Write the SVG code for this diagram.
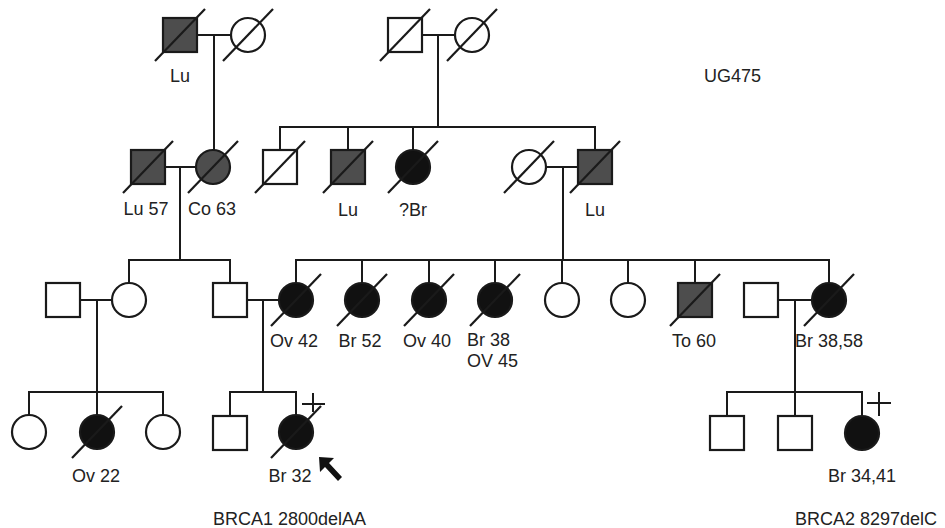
<svg xmlns="http://www.w3.org/2000/svg" width="945" height="528" viewBox="0 0 945 528">
<style>
.ln{stroke:#1a1a1a;stroke-width:2;fill:none}
.sym{stroke:#1a1a1a;stroke-width:2.2}
.open{fill:#fff}
.aff{fill:#111}
.sh{fill:#4d4d4d}
.sl{stroke:#1a1a1a;stroke-width:2.2}
text{font-family:"Liberation Sans",Arial,sans-serif;font-size:18px;fill:#222}
.c{text-anchor:middle}
</style>
<rect width="945" height="528" fill="#fff"/>
<g id="connectors">
<path class="ln" d="M197,35H231M214,35V150"/>
<path class="ln" d="M422,35H455M438,35V127"/>
<path class="ln" d="M280,150V127H595V150M348,127V150M413,127V150"/>
<path class="ln" d="M546,167H578M563,167V260"/>
<path class="ln" d="M165,167H196M180,167V260"/>
<path class="ln" d="M129,283V260H230V283"/>
<path class="ln" d="M296,283V260H829V283M362,260V283M429,260V283M495,260V283M562,260V283M628,260V283M695,260V283"/>
<path class="ln" d="M80,300H112M97,300V415"/>
<path class="ln" d="M247,300H279M263,300V392"/>
<path class="ln" d="M778,300H812M795,300V392"/>
<path class="ln" d="M29,415V392H163V415"/>
<path class="ln" d="M230,416V392H296V415"/>
<path class="ln" d="M727,416V392H862V416M795,392V416"/>
</g>
<g id="I-1"><rect class="sym sh" x="163" y="18" width="34" height="34"/><line class="sl" x1="155" y1="61" x2="205" y2="9"/><text class="c" x="180" y="82">Lu</text></g>
<g id="I-2"><circle class="sym open" cx="248" cy="35" r="17"/><line class="sl" x1="223" y1="61" x2="273" y2="9"/></g>
<g id="I-3"><rect class="sym open" x="388" y="18" width="34" height="34"/><line class="sl" x1="380" y1="61" x2="430" y2="9"/></g>
<g id="I-4"><circle class="sym open" cx="472" cy="35" r="17"/><line class="sl" x1="447" y1="61" x2="497" y2="9"/></g>
<g id="II-1"><rect class="sym sh" x="131" y="150" width="34" height="34"/><line class="sl" x1="123" y1="193" x2="173" y2="141"/><text class="c" x="146" y="215">Lu 57</text></g>
<g id="II-2"><circle class="sym sh" cx="213" cy="167" r="17"/><line class="sl" x1="188" y1="193" x2="238" y2="141"/><text class="c" x="212" y="215">Co 63</text></g>
<g id="II-3"><rect class="sym open" x="263" y="150" width="34" height="34"/><line class="sl" x1="255" y1="193" x2="305" y2="141"/></g>
<g id="II-4"><rect class="sym sh" x="331" y="150" width="34" height="34"/><line class="sl" x1="323" y1="193" x2="373" y2="141"/><text class="c" x="348" y="216">Lu</text></g>
<g id="II-5"><circle class="sym aff" cx="413" cy="167" r="17"/><line class="sl" x1="388" y1="193" x2="438" y2="141"/><text class="c" x="413" y="216">?Br</text></g>
<g id="II-6"><circle class="sym open" cx="529" cy="167" r="17"/><line class="sl" x1="504" y1="193" x2="554" y2="141"/></g>
<g id="II-7"><rect class="sym sh" x="578" y="150" width="34" height="34"/><line class="sl" x1="570" y1="193" x2="620" y2="141"/><text class="c" x="595" y="216">Lu</text></g>
<g id="III-1"><rect class="sym open" x="46" y="283" width="34" height="34"/></g>
<g id="III-2"><circle class="sym open" cx="129" cy="300" r="17"/></g>
<g id="III-3"><rect class="sym open" x="213" y="283" width="34" height="34"/></g>
<g id="III-4"><circle class="sym aff" cx="296" cy="300" r="17"/><line class="sl" x1="271" y1="326" x2="321" y2="274"/><text class="c" x="294" y="347">Ov 42</text></g>
<g id="III-5"><circle class="sym aff" cx="362" cy="300" r="17"/><line class="sl" x1="337" y1="326" x2="387" y2="274"/><text class="c" x="360" y="347">Br 52</text></g>
<g id="III-6"><circle class="sym aff" cx="429" cy="300" r="17"/><line class="sl" x1="404" y1="326" x2="454" y2="274"/><text class="c" x="427" y="347">Ov 40</text></g>
<g id="III-7"><circle class="sym aff" cx="495" cy="300" r="17"/><line class="sl" x1="470" y1="326" x2="520" y2="274"/><text x="467" y="346">Br 38</text><text x="467" y="367">OV 45</text></g>
<g id="III-8"><circle class="sym open" cx="562" cy="300" r="17"/></g>
<g id="III-9"><circle class="sym open" cx="628" cy="300" r="17"/></g>
<g id="III-10"><rect class="sym sh" x="678" y="283" width="34" height="34"/><line class="sl" x1="670" y1="326" x2="720" y2="274"/><text class="c" x="694" y="347">To 60</text></g>
<g id="III-11"><rect class="sym open" x="744" y="283" width="34" height="34"/></g>
<g id="III-12"><circle class="sym aff" cx="829" cy="300" r="17"/><line class="sl" x1="804" y1="326" x2="854" y2="274"/><text class="c" x="829" y="347">Br 38,58</text></g>
<g id="IV-1"><circle class="sym open" cx="29" cy="432" r="17"/></g>
<g id="IV-2"><circle class="sym aff" cx="97" cy="432" r="17"/><line class="sl" x1="72" y1="458" x2="122" y2="406"/><text class="c" x="96" y="482">Ov 22</text></g>
<g id="IV-3"><circle class="sym open" cx="163" cy="432" r="17"/></g>
<g id="IV-4"><rect class="sym open" x="213" y="416" width="34" height="34"/></g>
<g id="IV-5"><circle class="sym aff" cx="296" cy="432" r="17"/><line class="sl" x1="271" y1="458" x2="321" y2="406"/><path class="ln" d="M302,404H325M313,393V412"/><text class="c" x="290" y="482">Br 32</text>
<path d="M319,457L334,458L329,463L342,477L338,481L325,467L320,472Z" fill="#111"/></g>
<g id="IV-6"><rect class="sym open" x="710" y="416" width="34" height="34"/></g>
<g id="IV-7"><rect class="sym open" x="778" y="416" width="34" height="34"/></g>
<g id="IV-8"><circle class="sym aff" cx="862" cy="433" r="17"/><path class="ln" d="M867,403H891M879,392V416"/><text class="c" x="862" y="482">Br 34,41</text></g>
<text x="704" y="82">UG475</text>
<text x="213" y="525">BRCA1 2800delAA</text>
<text x="795" y="525">BRCA2 8297delC</text>
</svg>
